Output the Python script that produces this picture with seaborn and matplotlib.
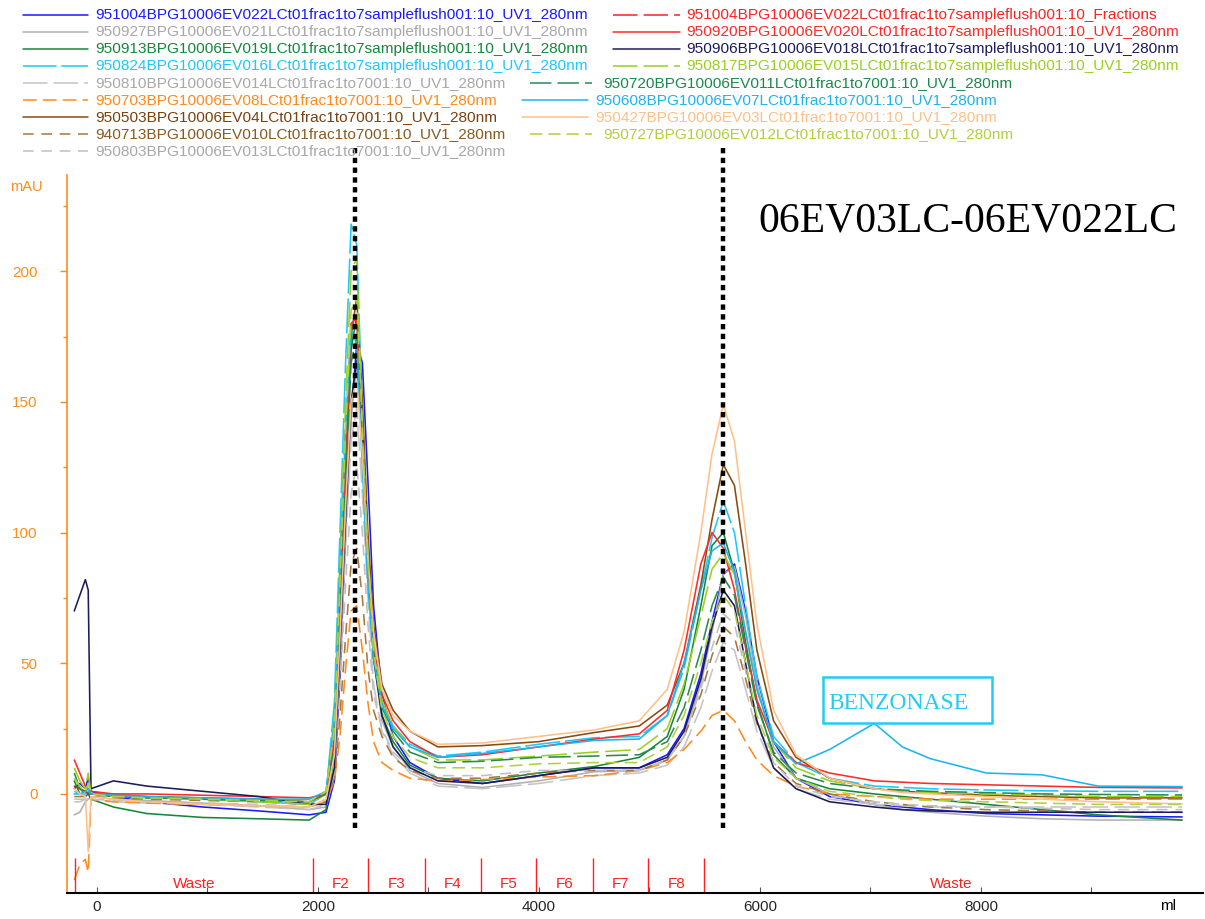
import numpy as np
import pandas as pd
import matplotlib
matplotlib.use("Agg")
import matplotlib.pyplot as plt
import seaborn as sns
from matplotlib.lines import Line2D
from matplotlib.patches import Rectangle

# ---------------- data ----------------
volume_ml = [-205, -155, -105, -79, -54, 149, 452, 959, 1465, 1921,
             2073, 2149, 2199, 2250, 2300, 2351, 2402, 2452, 2503, 2579,
             2680, 2832, 3085, 3490, 3997, 4503, 4908,
             5161, 5313, 5465, 5566, 5668, 5769, 5870, 5972,
             6123, 6326, 6630, 7035, 7288, 7541, 8048, 8554, 9060, 9820]

ev022 = [2, 4, 2, 6, 1, -1, -3, -5, -6.5, -8,
         -7, 5, 45, 100, 145, 172, 165, 120, 72, 38,
         22, 12, 6, 4, 7, 10, 10,
         15, 25, 46, 66, 84, 88, 70, 45,
         20, 6, -1, -4, -5, -6, -7.5, -8, -8.5, -8.8]
ev021 = [-8, -7, -3, -2, -1, -2, -2.5, -3.5, -4.5, -6,
         -5, 8, 50, 100, 145, 163, 140, 92, 52, 28,
         18, 9, 4, 2.5, 5, 8.5, 9,
         13, 22, 42, 62, 84, 87, 68, 42,
         18, 6, 0, -4, -6, -7, -8.5, -9.5, -10, -10]
ev019 = [5, 0, -1, 0, -2, -5, -7.5, -9, -9.5, -10,
         -6, 15, 65, 120, 170, 183, 140, 90, 55, 30,
         20, 11, 6, 5, 8, 10.5, 14,
         22, 40, 72, 95, 100, 85, 58, 35,
         15, 6, 2, 0, -1, -2, -4, -6, -8, -10]
ev016 = [1, 0, 0, 1, 0, 0, -1, -2, -3, -4,
         0, 35, 100, 165, 218, 210, 145, 95, 60, 35,
         26, 19, 14.5, 16, 19, 21.5, 22,
         30, 48, 78, 98, 112, 100, 72, 45,
         22, 12, 6, 3, 2.5, 2, 1.5, 1.2, 1, 1]
ev014 = [-3, -3, -2, -2, -2, -3, -3.5, -4, -5, -6,
         -4, 10, 50, 95, 135, 148, 115, 75, 42, 24,
         15, 8, 3, 2, 4, 7, 8,
         11, 18, 33, 47, 58, 55, 40, 24,
         10, 2, -2, -4, -4.5, -5, -5, -5, -5, -5]
ev08 = [-33, -27, -25, -30, -2, -3, -3.5, -4, -4.5, -5,
        -3, 5, 22, 48, 70, 72, 55, 35, 20, 12,
        9, 6, 5, 5.5, 6.5, 7, 9,
        12, 17, 24, 30, 32, 28, 20, 13,
        7, 3, 0, -1, -1.5, -2, -2, -2, -2, -2]
ev04 = [3, 2, 1, 0, 0, -0.5, -1, -1.5, -2, -3,
        0, 20, 70, 125, 175, 190, 150, 100, 65, 42,
        32, 24, 18, 18.5, 20, 23.5, 26,
        34, 50, 80, 105, 126, 118, 88, 55,
        28, 14, 6, 2, 1, 0.5, -0.5, -1, -1.5, -1.5]
ev010 = [-1, -1, -1, -1, -1, -1.5, -2, -2.5, -3, -4,
         -3, 6, 30, 60, 88, 94, 75, 48, 32, 22,
         14, 9, 6, 6, 8, 9, 9,
         13, 22, 38, 53, 64, 60, 44, 27,
         12, 4, 0, -3, -4, -5, -6, -6.5, -7, -7]
ev013 = [-2, -2, -2, -2, -2, -2.5, -3, -3.5, -4, -5,
         -2, 8, 40, 80, 115, 126, 100, 65, 38, 25,
         16, 10, 7, 7, 9, 9, 9,
         13, 22, 40, 56, 69, 65, 47, 28,
         12, 3, -1, -3, -4, -4.5, -5, -5.5, -6, -6]
ev020 = [13, 8, 3, 2, 1, 0, 0, -0.5, -1, -1.5,
         0, 22, 75, 130, 180, 182, 135, 88, 58, 38,
         28, 20, 14, 15, 18, 21, 23,
         32, 55, 88, 100, 94, 78, 56, 36,
         20, 12, 8, 5, 4.5, 4, 3.5, 3, 2.5, 2.3]
ev018 = [70, 76, 82, 78, 2, 5, 3, 1, -1, -4,
         -4, 10, 55, 105, 150, 166, 140, 90, 52, 30,
         18, 10, 5, 4, 7, 10, 10,
         14, 24, 44, 64, 78, 72, 50, 28,
         10, 2, -3, -5, -6, -6.5, -7, -7, -7, -7]
ev015 = [10, 5, 2, 8, 0, -1, -1.5, -2, -3, -4,
         0, 30, 90, 150, 200, 205, 140, 92, 60, 36,
         26, 18, 13, 13, 14.5, 16, 17,
         25, 42, 68, 86, 92, 84, 62, 40,
         20, 10, 5, 2, 1, 0.5, 0, -0.5, -1, -1]
ev011 = [8, 2, 0, 1, 0, -1, -1.5, -2, -2.5, -3,
         0, 18, 70, 120, 165, 175, 135, 85, 52, 33,
         24, 16, 12, 12.5, 14, 14.5, 15,
         20, 33, 55, 72, 83, 76, 55, 34,
         16, 8, 4, 2, 1.5, 1, 0.5, 0, -0.2, -0.4]
ev07 = [0, 0, 1, 2, 0, -0.5, -1, -1.5, -2, -2,
        1, 28, 85, 140, 178, 172, 125, 80, 52, 34,
        25, 18, 14, 15.5, 18, 20.5, 21,
        30, 50, 78, 93, 96, 85, 62, 40,
        20, 11.5, 17, 27, 18, 13.5, 8, 7.3, 3, 2.8]
ev03 = [2, 0, -1, -22, -1, -2, -3, -4, -4.5, -5,
        -2, 15, 60, 110, 150, 158, 130, 90, 62, 40,
        30, 24, 19, 19.5, 22, 24.5, 28,
        40, 62, 100, 130, 149, 135, 100, 65,
        32, 15, 6, 2, 0.5, 0, -1, -2, -3, -3.8]
ev012 = [6, 3, 1, 4, 0, -1, -1.5, -2, -2.5, -3,
         1, 25, 80, 140, 185, 190, 140, 90, 55, 32,
         22, 14, 10, 10, 11.5, 12, 12,
         18, 30, 50, 66, 76, 70, 50, 30,
         14, 6, 1, -1, -2, -2.5, -3, -3.5, -4, -4]

fraction_edges = [-199, 1955, 2455, 2965, 3475, 3975, 4485, 4990, 5495, 9960]
fraction_labels = ["Waste", "F2", "F3", "F4", "F5", "F6", "F7", "F8", "Waste"]
marker_lines_ml = [2335, 5665]

left_names = [
    "951004BPG10006EV022LCt01frac1to7sampleflush001:10_UV1_280nm",
    "950927BPG10006EV021LCt01frac1to7sampleflush001:10_UV1_280nm",
    "950913BPG10006EV019LCt01frac1to7sampleflush001:10_UV1_280nm",
    "950824BPG10006EV016LCt01frac1to7sampleflush001:10_UV1_280nm",
    "950810BPG10006EV014LCt01frac1to7001:10_UV1_280nm",
    "950703BPG10006EV08LCt01frac1to7001:10_UV1_280nm",
    "950503BPG10006EV04LCt01frac1to7001:10_UV1_280nm",
    "940713BPG10006EV010LCt01frac1to7001:10_UV1_280nm",
    "950803BPG10006EV013LCt01frac1to7001:10_UV1_280nm",
]
right_names = [
    "951004BPG10006EV022LCt01frac1to7sampleflush001:10_Fractions",
    "950920BPG10006EV020LCt01frac1to7sampleflush001:10_UV1_280nm",
    "950906BPG10006EV018LCt01frac1to7sampleflush001:10_UV1_280nm",
    "950817BPG10006EV015LCt01frac1to7sampleflush001:10_UV1_280nm",
    "950720BPG10006EV011LCt01frac1to7001:10_UV1_280nm",
    "950608BPG10006EV07LCt01frac1to7001:10_UV1_280nm",
    "950427BPG10006EV03LCt01frac1to7001:10_UV1_280nm",
    "950727BPG10006EV012LCt01frac1to7001:10_UV1_280nm",
]

series = {
    left_names[0]: ev022, left_names[1]: ev021, left_names[2]: ev019,
    left_names[3]: ev016, left_names[4]: ev014, left_names[5]: ev08,
    left_names[6]: ev04, left_names[7]: ev010, left_names[8]: ev013,
    right_names[1]: ev020, right_names[2]: ev018, right_names[3]: ev015,
    right_names[4]: ev011, right_names[5]: ev07, right_names[6]: ev03,
    right_names[7]: ev012,
}

# ---------------- styles ----------------
colors = {
    left_names[0]: "#1a1aff", left_names[1]: "#b0b0b0", left_names[2]: "#16863c",
    left_names[3]: "#1ec8f8", left_names[4]: "#c4c4c4", left_names[5]: "#ff8a1e",
    left_names[6]: "#8a4a10", left_names[7]: "#a8763e", left_names[8]: "#c0c0c0",
    right_names[0]: "#ff2020",
    right_names[1]: "#ff2a2a", right_names[2]: "#1c1c5a", right_names[3]: "#9ad020",
    right_names[4]: "#2a8a50", right_names[5]: "#1eb4ee", right_names[6]: "#ffc088",
    right_names[7]: "#b0d040",
}
text_colors = dict(colors)
text_colors[left_names[1]] = "#a8a8a8"
text_colors[left_names[4]] = "#a8a8a8"
text_colors[left_names[8]] = "#a8a8a8"
text_colors[left_names[6]] = "#7a4010"
text_colors[left_names[7]] = "#8a5a20"
text_colors[right_names[4]] = "#1a8a4a"

dashes = {n: "" for n in colors}
dashes[left_names[3]] = (22, 3)
dashes[left_names[4]] = (16, 4)
dashes[left_names[5]] = (9, 4)
dashes[left_names[7]] = (7, 5)
dashes[left_names[8]] = (7, 5)
dashes[right_names[0]] = (16, 4)
dashes[right_names[3]] = (16, 4)
dashes[right_names[4]] = (14, 4)
dashes[right_names[7]] = (8, 4)

rows = []
for name, vals in series.items():
    for x, y in zip(volume_ml, vals):
        rows.append((name, x, y))
df = pd.DataFrame(rows, columns=["trace", "ml", "mAU"])

# ---------------- figure ----------------
sns.set_style("white")
plt.rcParams["font.family"] = ["Liberation Sans", "DejaVu Sans"]

W, H = 1205, 919
fig = plt.figure(figsize=(W / 100, H / 100), dpi=100)
ax = fig.add_axes([67 / W, 26 / H, 1136 / W, 718 / H])

order = list(series.keys())
sns.lineplot(data=df, x="ml", y="mAU", hue="trace", style="trace",
             hue_order=order, style_order=order,
             palette={k: colors[k] for k in order},
             dashes={k: dashes[k] for k in order},
             estimator=None, sort=False, legend=False, lw=1.15, ax=ax)

ax.set_xlim(-271, 10009)
ax.set_ylim(-37.9, 236.8)

orange = "#ff8c1a"
for s in ["top", "right"]:
    ax.spines[s].set_visible(False)
ax.spines["left"].set_color(orange)
ax.spines["left"].set_linewidth(1.2)
ax.spines["bottom"].set_color("black")
ax.spines["bottom"].set_linewidth(1.5)

ax.set_yticks([0, 50, 100, 150, 200])
ax.set_yticks([25, 75, 125, 175, 225], minor=True)
ax.set_xticks([0, 2000, 4000, 6000, 8000])
ax.set_xticks([1000, 3000, 5000, 7000, 9000], minor=True)
ax.tick_params(axis="y", which="major", direction="out", length=5, width=1,
               color=orange, labelcolor=orange, labelsize=11, pad=16, left=True)
ax.tick_params(axis="y", which="minor", direction="out", length=3, width=1,
               color=orange, left=True)
ax.tick_params(axis="x", which="both", direction="in", length=4, width=0.8,
               color="#555555", labelsize=11, pad=5, bottom=True)
ax.set_xlabel("")
ax.set_ylabel("")

fig.text(10 / W, 1 - 187 / H, "mAU", color=orange, fontsize=10.5, va="center")
fig.text(1160 / W, 1 - 906 / H, "ml", color="black", fontsize=11, va="center")

# fraction markers
red = "#ff2020"
ax.vlines(fraction_edges[:-1], -37.9, -24.5, color=red, lw=1)
for i, lab in enumerate(fraction_labels):
    xm = (fraction_edges[i] + fraction_edges[i + 1]) / 2
    ax.text(xm, -34.4, lab, color=red, fontsize=11, ha="center", va="center")

# dotted cut lines
for xv in marker_lines_ml:
    ax.plot([xv, xv], [-13, 248.3], color="black", lw=3.2,
            linestyle=(0, (1.2, 1.0)), clip_on=False, zorder=5)

# title
fig.text(758 / W, 1 - 221 / H, "06EV03LC-06EV022LC", fontsize=30,
         family=["Liberation Serif", "DejaVu Serif"], va="center", color="black")

# BENZONASE box
ax.add_patch(Rectangle((6570, 27.2), 1530, 17.6, fill=False,
                       edgecolor="#22ccf2", lw=1.8, zorder=6))
ax.text(6615, 34.6, "BENZONASE", color="#22ccf2", fontsize=17,
        family=["Liberation Serif", "DejaVu Serif"], va="center", ha="left")

# manual legend
def legend_entry(x0, x1, xt, y, name):
    yy = 1 - y / H
    ls = "-" if dashes[name] == "" else (0, dashes[name])
    fig.add_artist(Line2D([x0 / W, x1 / W], [yy, yy], color=colors[name],
                          lw=1.1, linestyle=ls, transform=fig.transFigure))
    fig.text(xt / W, yy, name, color=text_colors[name], fontsize=11.1, va="center")

row_y = [15, 32, 49, 66, 83, 100, 117, 134, 151]
for i, n in enumerate(left_names):
    legend_entry(23, 88, 95, row_y[i], n)
right_geom = [(613, 680, 686)] * 4 + [(530, 592, 603), (522, 588, 595),
                                      (522, 588, 595), (530, 592, 603)]
for i, n in enumerate(right_names):
    x0, x1, xt = right_geom[i]
    legend_entry(x0, x1, xt, row_y[i], n)

fig.savefig("out.png", dpi=100)
